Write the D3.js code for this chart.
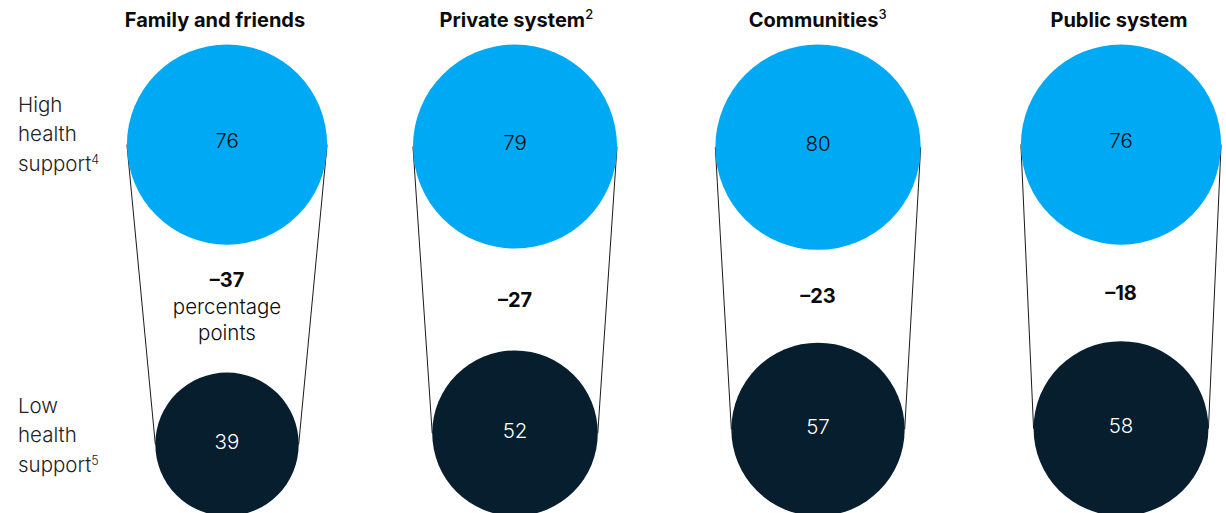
<!DOCTYPE html>
<html>
<head>
<meta charset="utf-8">
<script src="https://cdn.jsdelivr.net/npm/d3@7/dist/d3.min.js"></script>
<style>
  html, body { margin: 0; padding: 0; background: #fff; }
  svg { display: block; font-family: Inter, "Liberation Sans", Arial, sans-serif; }
</style>
</head>
<body>
<svg id="chart" width="1226" height="513"></svg>
<script>
// Share of respondents reporting support, by source, for high vs low health support
const categories = ["Family and friends", "Private system", "Communities", "Public system"];
const categoryNotes = ["", "2", "3", ""];
const highValues = [76, 79, 80, 76];
const lowValues = [39, 52, 57, 58];
const rowLabelLines = [["High", "health", "support"], ["Low", "health", "support"]];
const rowLabelNotes = ["4", "5"];
const gapUnitLines = ["percentage", "points"];

const width = 1226, height = 513;
const svg = d3.select("#chart");

const BLUE = "#00A9F4";
const NAVY = "#071E2E";
const INK = "#0b0b0b";

// circle area encodes the value
const rScale = d3.scaleSqrt().domain([0, 100]).range([0, 114.8]);

// column centres for the circles and for the headers
const circleX = d3.scaleOrdinal().domain(categories).range([227, 515, 818, 1121]);
const headerX = d3.scalePoint().domain(categories).range([215, 1119]);

const highTop = 44.5;     // tops of the high-support circles line up
const lowBottom = 516;    // bottoms of the low-support circles line up

const cols = categories.map((c, i) => {
  const rH = rScale(highValues[i]);
  const rL = rScale(lowValues[i]);
  return {
    name: c, note: categoryNotes[i], high: highValues[i], low: lowValues[i],
    x: circleX(c), rH, rL,
    yH: highTop + rH, yL: lowBottom - rL,
    diff: lowValues[i] - highValues[i], first: i === 0
  };
});

// connector lines (behind the circles)
const g = svg.append("g");
const links = g.selectAll("g.link").data(cols).join("g").attr("class", "link");
[-1, 1].forEach(side => {
  links.append("line")
    .attr("x1", d => d.x + side * d.rH).attr("y1", d => d.yH)
    .attr("x2", d => d.x + side * d.rL).attr("y2", d => d.yL)
    .attr("stroke", "#1a1a1a").attr("stroke-width", 1);
});

// circles
g.selectAll("circle.high").data(cols).join("circle").attr("class", "high")
  .attr("cx", d => d.x).attr("cy", d => d.yH).attr("r", d => d.rH).attr("fill", BLUE);
g.selectAll("circle.low").data(cols).join("circle").attr("class", "low")
  .attr("cx", d => d.x).attr("cy", d => d.yL).attr("r", d => d.rL).attr("fill", NAVY);

// values inside circles
g.selectAll("text.vh").data(cols).join("text").attr("class", "vh")
  .attr("x", d => d.x).attr("y", d => d.yH - 4).attr("dy", "0.36em")
  .attr("text-anchor", "middle").attr("font-size", 20.5).attr("font-weight", 300)
  .attr("fill", INK).text(d => d.high);
g.selectAll("text.vl").data(cols).join("text").attr("class", "vl")
  .attr("x", d => d.x).attr("y", d => d.yL - 3).attr("dy", "0.36em")
  .attr("text-anchor", "middle").attr("font-size", 20.5).attr("font-weight", 300)
  .attr("fill", "#fff").text(d => d.low);

// gap labels between the circles
const gap = g.selectAll("text.gap").data(cols).join("text").attr("class", "gap")
  .attr("text-anchor", "middle").attr("fill", INK)
  .attr("transform", d => {
    const mid = ((d.yH + d.rH) + (d.yL - d.rL)) / 2;
    return `translate(${d.x},${mid})`;
  });
gap.each(function(d) {
  const t = d3.select(this);
  const lines = d.first ? 1 + gapUnitLines.length : 1;
  const step = 25.5;
  const y0 = -((lines - 1) * step) / 2 - (d.first ? 3 : 0);
  t.append("tspan").attr("x", 0).attr("y", y0).attr("dy", "0.36em")
    .attr("font-size", 20).attr("font-weight", 700)
    .text((d.diff < 0 ? "\u2013" : "+") + Math.abs(d.diff));
  if (d.first) {
    gapUnitLines.forEach((s, k) => {
      t.append("tspan").attr("x", 0).attr("y", y0 + (k + 1) * step + 1).attr("dy", "0.36em")
        .attr("font-size", 20.5).attr("font-weight", 300).text(s);
    });
  }
});

// column headers
const hdr = svg.selectAll("text.hdr").data(cols).join("text").attr("class", "hdr")
  .attr("x", d => headerX(d.name)).attr("y", 27)
  .attr("text-anchor", "middle").attr("font-size", 20).attr("font-weight", 700)
  .attr("fill", INK);
hdr.append("tspan").text(d => d.name);
hdr.append("tspan").attr("dy", -8).attr("font-size", 13).attr("font-weight", 500)
  .text(d => d.note);

// row labels on the left
const rowY = [
  (cols[0].yH) - 40,
  (cols[0].yL) - 39
];
rowLabelLines.forEach((lines, r) => {
  const t = svg.append("text").attr("x", 18).attr("font-size", 20.5)
    .attr("font-weight", 300).attr("fill", "#222");
  lines.forEach((s, k) => {
    t.append("tspan").attr("x", 18).attr("y", rowY[r] + k * 29.5).attr("dy", "0.36em").text(s);
    if (k === lines.length - 1) {
      t.append("tspan").attr("dy", "-0.55em").attr("font-size", 12.5).text(rowLabelNotes[r]);
    }
  });
});
</script>
</body>
</html>
